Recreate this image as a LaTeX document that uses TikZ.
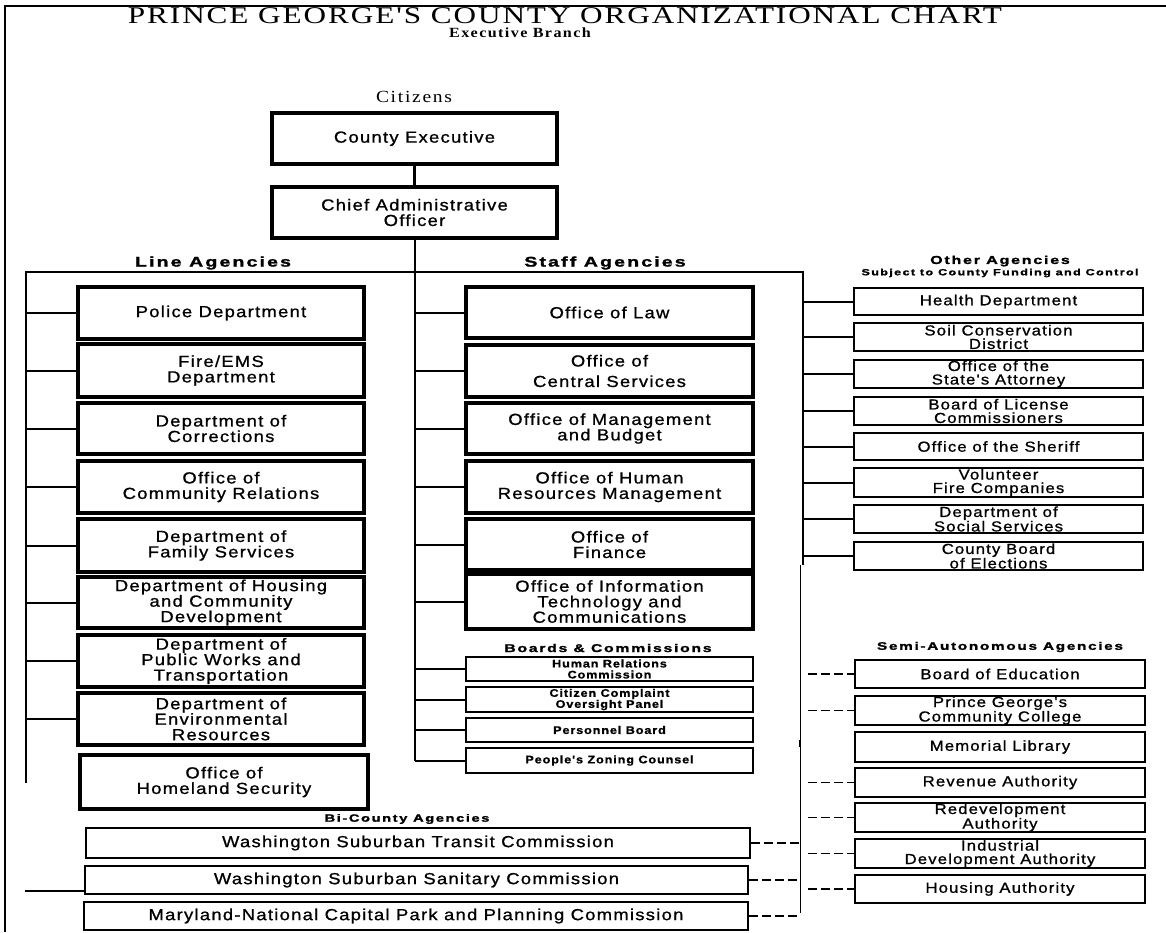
\documentclass[tikz,border=0pt]{standalone}
\usepackage{fontspec}
\newfontfamily\bx[FakeStretch=1.15,LetterSpace=8,FakeBold=1]{Liberation Sans}
\newfontfamily\hd[FakeStretch=1.4,LetterSpace=15,FakeBold=1.5]{Liberation Sans}
\newfontfamily\tm[FakeStretch=1.15,LetterSpace=10]{Liberation Serif}
\newfontfamily\tmt[FakeStretch=1.3,LetterSpace=8]{Liberation Serif}
\begin{document}
\begin{tikzpicture}[x=1pt,y=-1pt,line join=miter,
  box/.style={draw, line width=3.2pt, inner sep=0pt, align=center, font=\bx\fontsize{16}{15.5}\selectfont},
  obox/.style={box, line width=1.8pt, font=\bx\fontsize{14.5}{13.5}\selectfont},
  bbox/.style={box, line width=2.8pt, font=\bx\bfseries\fontsize{11}{11}\selectfont},
  wbox/.style={box, line width=2.2pt},
  conn/.style={line width=2pt},
  dconn/.style={line width=1.8pt, dash pattern=on 9pt off 4pt},
  hdr/.style={inner sep=0pt, font=\hd\bfseries\fontsize{#1}{#1}\selectfont}]
\useasboundingbox (0,0) rectangle (1166,932);
% frame
\draw[line width=2.5pt] (5,932) -- (5,6) -- (1166,6);
% titles
\node[inner sep=0pt, font=\tmt\fontsize{24}{24}\selectfont] (title) at (565,16) {PRINCE GEORGE'S COUNTY ORGANIZATIONAL CHART};
\node[inner sep=0pt, font=\tm\bfseries\fontsize{14}{14}\selectfont] (sub) at (520,33) {Executive Branch};
\node[inner sep=0pt, font=\tm\fontsize{17}{17}\selectfont] (cit) at (414,97) {Citizens};
% top boxes
\node[box, minimum width=285, minimum height=51] (ce) at (414.5,138.5) {County Executive};
\node[box, minimum width=285, minimum height=51] (cao) at (414.5,212.5) {Chief Administrative\\Officer};
% headers
\node[hdr=14] (hla) at (213,263) {Line Agencies};
\node[hdr=14] (hsa) at (605,263) {Staff Agencies};
\node[hdr=11.5] (hoa) at (1000,261) {Other Agencies};
\node[hdr=9] (hoa2) at (1000,273) {Subject to County Funding and Control};
\node[hdr=11.3] (hbc) at (608,648) {Boards \& Commissions};
\node[hdr=11] (hsm) at (1000,647) {Semi-Autonomous Agencies};
\node[hdr=10.5] (hbi) at (407,819) {Bi-County Agencies};
% line agencies
\node[box, minimum width=286, minimum height=52] (police) at (221,313) {Police Department};
\node[box, minimum width=286, minimum height=53] (fire) at (221,370.5) {Fire/EMS\\Department};
\node[box, minimum width=286, minimum height=51] (corr) at (221,428.5) {Department of\\Corrections};
\node[box, minimum width=286, minimum height=52] (comm) at (221,487) {Office of\\Community Relations};
\node[box, minimum width=286, minimum height=53] (fam) at (221,545.5) {Department of\\Family Services};
\node[box, minimum width=286, minimum height=51] (hous) at (221,602.5) {Department of Housing\\and Community\\Development};
\node[box, minimum width=286, minimum height=52] (pw) at (221,661) {Department of\\Public Works and\\Transportation};
\node[box, minimum width=286, minimum height=52] (env) at (221,719) {Department of\\Environmental\\Resources};
\node[box, minimum width=288, minimum height=54] (home) at (224,782) {Office of\\Homeland Security};
% staff agencies
\node[box, minimum width=287, minimum height=51] (law) at (609.5,312.5) {Office of Law};
\node[box, minimum width=287, minimum height=52] (cs) at (609.5,371) {Office of\\[5pt]Central Services};
\node[box, minimum width=287, minimum height=51] (omb) at (609.5,428.5) {Office of Management\\and Budget};
\node[box, minimum width=287, minimum height=52] (hrm) at (609.5,487) {Office of Human\\Resources Management};
\node[box, minimum width=287, minimum height=51] (fin) at (609.5,544.5) {Office of\\Finance};
\node[box, minimum width=287, minimum height=55] (oit) at (609.5,601.5) {Office of Information\\Technology and\\Communications};
% boards
\node[bbox, minimum width=287, minimum height=24] (hrc) at (609.5,669) {Human Relations\\Commission};
\node[bbox, minimum width=287, minimum height=25] (ccop) at (609.5,699.5) {Citizen Complaint\\Oversight Panel};
\node[bbox, minimum width=287, minimum height=24] (pb) at (609.5,730) {Personnel Board};
\node[bbox, minimum width=287, minimum height=25] (pzc) at (609.5,760.5) {People's Zoning Counsel};
% other agencies
\node[obox, minimum width=289, minimum height=27] (health) at (998.5,301.5) {Health Department};
\node[obox, minimum width=289, minimum height=28] (soil) at (998.5,337) {Soil Conservation\\District};
\node[obox, minimum width=289, minimum height=28] (sa) at (998.5,374) {Office of the\\State's Attorney};
\node[obox, minimum width=289, minimum height=28] (blc) at (998.5,411) {Board of License\\Commissioners};
\node[obox, minimum width=289, minimum height=27] (sher) at (998.5,446.5) {Office of the Sheriff};
\node[obox, minimum width=289, minimum height=29] (vfc) at (998.5,482.5) {Volunteer\\Fire Companies};
\node[obox, minimum width=289, minimum height=28] (dss) at (998.5,519) {Department of\\Social Services};
\node[obox, minimum width=289, minimum height=28] (cbe) at (998.5,556) {County Board\\of Elections};
% semi-autonomous
\node[obox, minimum width=290, minimum height=28] (boe) at (1000,674) {Board of Education};
\node[obox, minimum width=290, minimum height=29] (pgcc) at (1000,710.5) {Prince George's\\Community College};
\node[obox, minimum width=290, minimum height=30] (ml) at (1000,747) {Memorial Library};
\node[obox, minimum width=290, minimum height=29] (ra) at (1000,782.5) {Revenue Authority};
\node[obox, minimum width=290, minimum height=29] (rda) at (1000,817.5) {Redevelopment\\Authority};
\node[obox, minimum width=290, minimum height=29] (ida) at (1000,853.5) {Industrial\\Development Authority};
\node[obox, minimum width=290, minimum height=28] (ha) at (1000,889) {Housing Authority};
% bi-county
\node[wbox, minimum width=664, minimum height=30] (wstc) at (418,843) {Washington Suburban Transit Commission};
\node[wbox, minimum width=663, minimum height=28] (wssc) at (416.5,880) {Washington Suburban Sanitary Commission};
\node[wbox, minimum width=664, minimum height=28] (mnc) at (416,916) {Maryland-National Capital Park and Planning Commission};
% buses
\coordinate (lbTop) at (26,272);
\coordinate (lbBot) at (26,783);
\coordinate (topR) at (803,272);
\coordinate (obBot) at (803,565);
\coordinate (semiBot) at (800,913);
\coordinate (sdx) at (808,0);
\coordinate (wl) at (25,891);
\draw[conn] (lbBot) -- (lbTop) -- (topR) -- (obBot);
\draw[line width=0.8pt] (obBot -| semiBot) -- (semiBot);
\draw[line width=2pt] (800,740) -- (800,747);
\draw[line width=3pt] (ce.south) -- (cao.north);
\draw[conn] (cao.south) -- (cao.south |- pzc.west);
\foreach \n in {police,fire,corr,comm,fam,hous,pw,env}
  \draw[conn] (\n.west -| lbTop) -- (\n.west);
\foreach \n in {law,cs,omb,hrm,fin,oit,hrc,ccop,pb,pzc}
  \draw[conn] (\n.west -| cao.south) -- (\n.west);
\foreach \n in {health,soil,sa,blc,sher,vfc,dss,cbe}
  \draw[conn] (\n.west -| topR) -- (\n.west);
\foreach \n in {boe,pgcc,ra,rda,ida,ha}
  \draw[dconn] (\n.west -| sdx) -- (\n.west);
\foreach \n in {wstc,wssc,mnc}
  \draw[dconn] (\n.east) -- (\n.east -| semiBot);
\draw[conn] (wl) -- (wl -| wssc.west);
\end{tikzpicture}
\end{document}
